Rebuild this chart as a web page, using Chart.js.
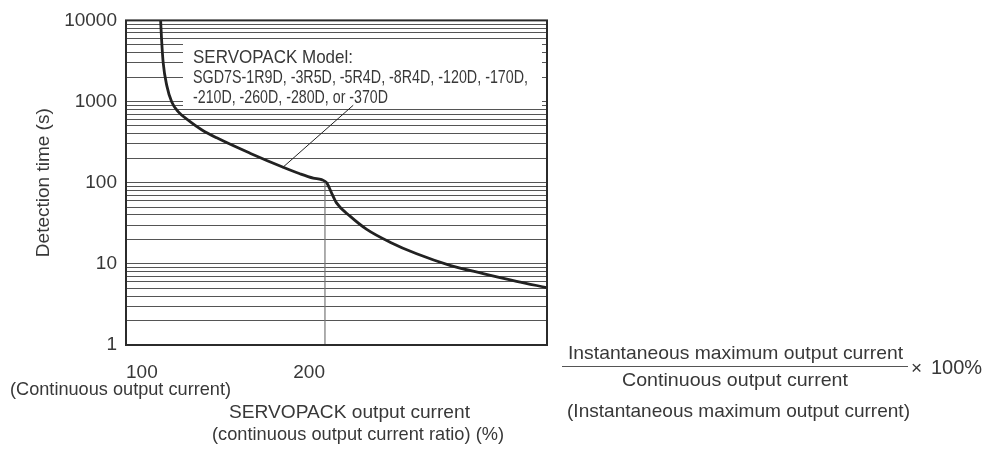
<!DOCTYPE html>
<html>
<head>
<meta charset="utf-8">
<script src="https://cdn.jsdelivr.net/npm/chart.js@4.4.1/dist/chart.umd.min.js"></script>
<style>
  html, body { margin: 0; padding: 0; background: #fff; }
  canvas { display: block; }
</style>
</head>
<body>
<canvas id="overloadChart" width="1001" height="461"></canvas>
<script>
// overload curve (x = % of continuous current, y = seconds)
const curveX = [117.4, 117.9, 118.7, 120.5, 123.0, 126.3, 132.2, 138.0, 145.6, 162.3, 179.0, 187.4, 194.1, 198.3, 200.9, 203.4, 205.9, 212.6, 221.0, 232.7, 246.1, 262.8, 279.5, 296.3, 311.4];
const curveY = [10000, 5740, 2990, 1570, 986, 747, 566, 450, 357, 231, 155, 129, 114, 109, 99.5, 74, 56, 38.7, 26.6, 18.5, 13.3, 9.6, 7.6, 6.1, 5.1];

// drop line at 200 % and leader line to the model note
const dropX = [200, 200];
const dropY = [1, 100];
const leaderX = [178.5, 214.2];
const leaderY = [152, 900];

const xTickValues = [100, 200];
const xTickLabels = ["100", "200"];
const yTickValues = [1, 10, 100, 1000, 10000];
const yTickLabels = ["1", "10", "100", "1000", "10000"];
const yMinorSteps = [2, 3, 4, 5, 6, 7, 8, 9];

const noteLines = [
  "SERVOPACK Model:",
  "SGD7S-1R9D, -3R5D, -5R4D, -8R4D, -120D, -170D,",
  "-210D, -260D, -280D, or -370D",
];

const FONT = '"Liberation Sans", Arial, Helvetica, sans-serif';
const INK = "#383838";

Chart.defaults.font.family = FONT;
Chart.defaults.color = INK;

const toPoints = (xs, ys) => xs.map((x, i) => ({ x, y: ys[i] }));

// every log gridline: 1..9 in each decade
const yGridValues = [];
yTickValues.forEach((d, i) => {
  yGridValues.push(d);
  if (i < yTickValues.length - 1) yMinorSteps.forEach(k => yGridValues.push(d * k));
});

// draw text squeezed/stretched to a given width, starting at x
function fitText(ctx, text, x, y, width) {
  const w = ctx.measureText(text).width;
  ctx.save();
  ctx.translate(x, y);
  ctx.scale(width / w, 1);
  ctx.textAlign = "left";
  ctx.fillText(text, 0, 0);
  ctx.restore();
}

const overlay = {
  id: "overlay",
  beforeDatasetsDraw(chart) {
    const { ctx } = chart;
    // white panel behind the model note hides the gridlines
    ctx.save();
    ctx.fillStyle = "#fff";
    ctx.fillRect(183, 42, 359, 64);
    ctx.restore();
  },
  afterDatasetsDraw(chart) {
    const { ctx, chartArea: a } = chart;
    ctx.save();
    ctx.strokeStyle = "#2b2b2b";
    ctx.lineWidth = 2;
    ctx.strokeRect(a.left, a.top, a.right - a.left, a.bottom - a.top);

    ctx.fillStyle = INK;
    ctx.font = "18.5px " + FONT;
    ctx.textBaseline = "alphabetic";
    const widths = [160, 335, 195];
    const baselines = [62.5, 83, 103];
    noteLines.forEach((t, i) => fitText(ctx, t, 193, baselines[i], widths[i]));
    ctx.restore();
  },
  afterDraw(chart) {
    const { ctx } = chart;
    ctx.save();
    ctx.fillStyle = INK;
    ctx.font = "19px " + FONT;
    ctx.textBaseline = "middle";

    fitText(ctx, "(Continuous output current)", 10, 390, 221);
    fitText(ctx, "SERVOPACK output current", 229, 413, 241);
    fitText(ctx, "(continuous output current ratio) (%)", 212, 435, 292);

    // formula on the right
    fitText(ctx, "Instantaneous maximum output current", 568, 354, 335);
    fitText(ctx, "Continuous output current", 622, 381, 226);
    ctx.strokeStyle = "#555";
    ctx.lineWidth = 1;
    ctx.beginPath();
    ctx.moveTo(562, 366.5);
    ctx.lineTo(908, 366.5);
    ctx.stroke();
    ctx.textAlign = "left";
    ctx.fillText("\u00d7", 911, 369);
    ctx.font = "20px " + FONT;
    ctx.fillText("100%", 931, 368);
    ctx.font = "19px " + FONT;
    fitText(ctx, "(Instantaneous maximum output current)", 567, 412, 343);
    ctx.restore();
  },
};

new Chart(document.getElementById("overloadChart").getContext("2d"), {
  type: "line",
  data: {
    datasets: [
      {
        label: "drop",
        data: toPoints(dropX, dropY),
        borderColor: "#777",
        borderWidth: 1.2,
        pointRadius: 0,
      },
      {
        label: "leader",
        data: toPoints(leaderX, leaderY),
        borderColor: "#222",
        borderWidth: 1,
        pointRadius: 0,
      },
      {
        label: "Detection time",
        data: toPoints(curveX, curveY),
        borderColor: "#222",
        borderWidth: 2.8,
        pointRadius: 0,
        cubicInterpolationMode: "monotone",
      },
    ],
  },
  options: {
    responsive: false,
    animation: false,
    layout: { padding: { left: 0, top: 13, right: 454, bottom: 76 } },
    plugins: {
      legend: { display: false },
      tooltip: { enabled: false },
    },
    scales: {
      x: {
        type: "linear",
        min: 100,
        max: 311.6,
        grid: { display: false, drawTicks: false },
        border: { display: false },
        afterBuildTicks: (scale) => {
          scale.ticks = xTickValues.map(v => ({ value: v }));
        },
        afterFit: (scale) => { scale.height = 40; },
        ticks: {
          autoSkip: false,
          maxRotation: 0,
          align: "inner",
          padding: 16,
          font: { size: 19 },
          callback: (v) => xTickLabels[xTickValues.indexOf(v)],
        },
      },
      y: {
        type: "logarithmic",
        min: 1,
        max: 10000,
        grid: { color: "#555", lineWidth: 1, drawTicks: false },
        border: { display: false },
        afterBuildTicks: (scale) => {
          scale.ticks = yGridValues.map(v => ({ value: v }));
        },
        afterFit: (scale) => { scale.width = 126; },
        title: {
          display: true,
          text: "Detection time (s)",
          font: { size: 19 },
          padding: { top: 32 },
        },
        ticks: {
          autoSkip: false,
          padding: 9,
          font: { size: 19 },
          callback: (v) => {
            const i = yTickValues.indexOf(v);
            return i >= 0 ? yTickLabels[i] : "";
          },
        },
      },
    },
  },
  plugins: [overlay],
});
</script>
</body>
</html>
